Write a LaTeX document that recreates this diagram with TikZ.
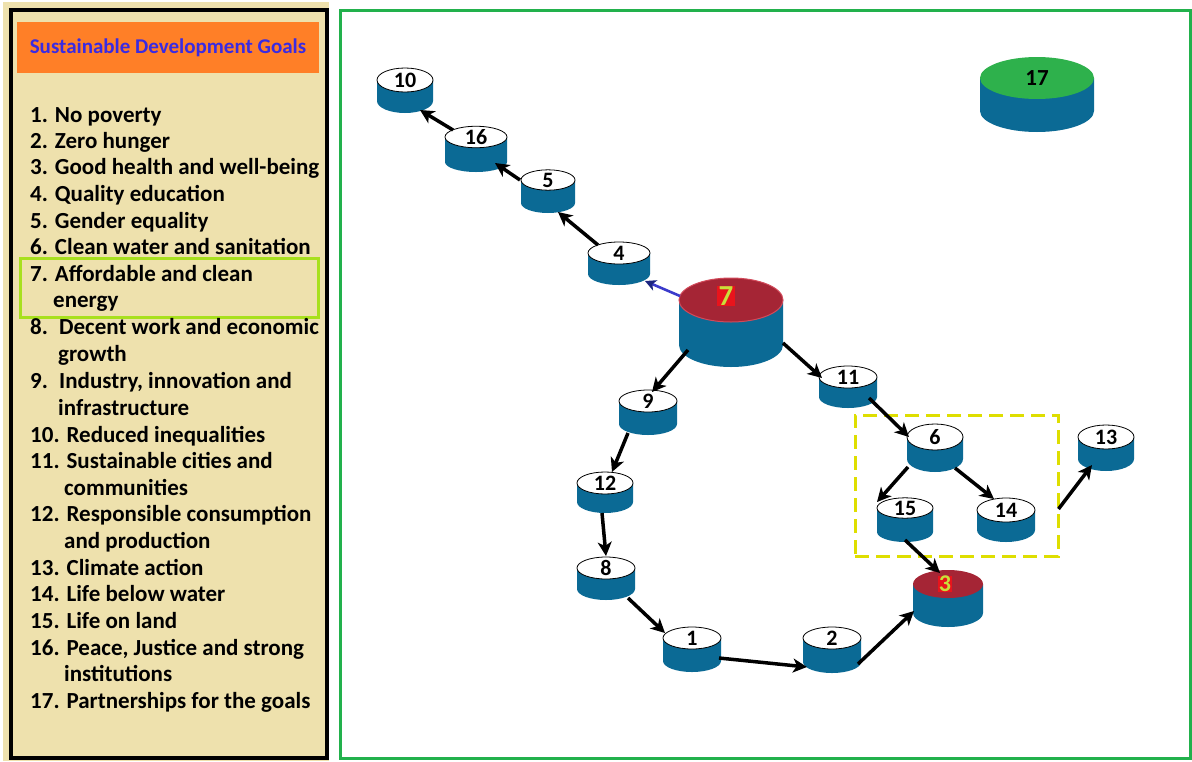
\documentclass[tikz,border=0pt]{standalone}
\usepackage{fontspec}
\setmainfont{Carlito}
\usetikzlibrary{shapes.geometric,arrows.meta,calc}
\definecolor{beige}{HTML}{EEE1AD}
\definecolor{orangebar}{HTML}{FF7F27}
\definecolor{titleblue}{HTML}{3A2BE2}
\definecolor{panelgreen}{HTML}{22B14C}
\definecolor{limegreen}{HTML}{A8E01E}
\definecolor{cylblue}{HTML}{0B6A95}
\definecolor{dashyellow}{HTML}{DEDE00}
\definecolor{topred}{HTML}{A52535}
\definecolor{rimred}{HTML}{D24A5A}
\definecolor{labelred}{HTML}{E8141C}
\definecolor{labelyellow}{HTML}{C8E03A}
\definecolor{topgreen}{HTML}{2EB14C}
\definecolor{arrowblue}{HTML}{3B3BCB}
\definecolor{navyhead}{HTML}{1C2580}
\newcommand\cylbody[5]{%
  \fill[cylblue] ({#1-#3},#2) -- ({#1-#3},{#2+#5}) arc[start angle=180,end angle=0,x radius=#3,y radius=#4] -- ({#1+#3},#2) -- cycle;}
\newcommand\cyl[8]{%
  \cylbody{#2}{#3}{#4}{#5}{#6}
  \node[ellipse,inner sep=0pt,minimum width={2*#4pt},minimum height={2*#5pt},#7] (#1) at (#2,#3) {#8};}
\newcommand\li[4]{\node[item] (#1) at (#2,{#3+8}) {#4};}
\begin{document}
\begin{tikzpicture}[x=1pt,y=-1pt,
  item/.style={anchor=base west,inner sep=0pt,font=\bfseries\fontsize{23}{24}\selectfont},
  cyltop/.style={fill=white,draw=black,line width=0.8pt,font=\bfseries\fontsize{22}{22}\selectfont},
  arr/.style={line width=3.5pt,black,-{Stealth[length=14pt,width=14pt,inset=4pt]}},
  bluearr/.style={line width=2.6pt,arrowblue,-{Stealth[length=11pt,width=11pt,inset=3pt,color=navyhead]}}]
\useasboundingbox (0,0) rectangle (1192,761);
% left panel
\fill[beige] (3,2) rectangle (329,761);
\node[draw=black,line width=3.5pt,minimum width=316pt,minimum height=748pt,inner sep=0pt] (panel) at (169,384) {};
\node[fill=orangebar,minimum width=302pt,minimum height=51pt,inner sep=0pt,text=titleblue,font=\bfseries\fontsize{21}{22}\selectfont] (title) at (168,47.5) {Sustainable Development Goals};
\node[draw=limegreen,line width=3pt,minimum width=298pt,minimum height=59pt,inner sep=0pt] (hl) at (169,287.5) {};
\li{i1}{30}{114}{1. No poverty}
\li{i2}{30}{140}{2. Zero hunger}
\li{i3}{30}{166}{3. Good health and well-being}
\li{i4}{30}{193}{4. Quality education}
\li{i5}{30}{220}{5. Gender equality}
\li{i6}{30}{246}{6. Clean water and sanitation}
\li{i7}{30}{273}{7. Affordable and clean}
\li{i7b}{53}{299}{energy}
\li{i8}{30}{326}{\makebox[29pt][l]{8.}Decent work and economic}
\li{i8b}{58}{353}{growth}
\li{i9}{30}{380}{\makebox[29pt][l]{9.}Industry, innovation and}
\li{i9b}{58}{407}{infrastructure}
\li{i10}{30}{434}{10. Reduced inequalities}
\li{i11}{30}{460}{11. Sustainable cities and}
\li{i11b}{64}{487}{communities}
\li{i12}{30}{513}{12. Responsible consumption}
\li{i12b}{64}{540}{and production}
\li{i13}{30}{567}{13. Climate action}
\li{i14}{30}{593}{14. Life below water}
\li{i15}{30}{620}{15. Life on land}
\li{i16}{30}{647}{16. Peace, Justice and strong}
\li{i16b}{64}{673}{institutions}
\li{i17}{30}{700}{17. Partnerships for the goals}
% right panel
\node[draw=panelgreen,line width=3pt,minimum width=850pt,minimum height=748pt,inner sep=0pt] (graph) at (765,384) {};
\node[draw=dashyellow,line width=3pt,dash pattern=on 14pt off 7pt,minimum width=203pt,minimum height=141pt,inner sep=0pt] (grp) at (956.5,485.5) {};
% cylinders
\cyl{n10}{405}{80}{28}{12}{21}{cyltop}{10}
\cyl{n16}{476}{137}{31}{10}{25}{cyltop}{16}
\cyl{n5}{548}{180}{27}{10}{23}{cyltop}{5}
\cyl{n4}{619}{253}{31}{11}{21}{cyltop}{4}
\cyl{n9}{648}{401}{29}{11}{23}{cyltop}{9}
\cyl{n12}{605}{483}{28}{11}{19}{cyltop}{12}
\cyl{n8}{606}{568}{29}{11}{21}{cyltop}{8}
\cyl{n1}{692}{638}{29}{11}{23}{cyltop}{1}
\cyl{n2}{832}{638}{29}{11}{24}{cyltop}{2}
\cyl{n11}{848}{377}{29}{11}{20}{cyltop}{11}
\cyl{n6}{935}{437}{28}{13}{22}{cyltop}{6}
\cyl{n15}{905}{508}{28}{10}{24}{cyltop}{15}
\cyl{n14}{1006}{510}{29}{12}{20}{cyltop}{14}
\cyl{n13}{1106}{437}{28}{12}{22}{cyltop}{13}
\cyl{n7}{731}{300}{52}{22}{45}{fill=topred,draw=rimred,line width=1pt}{}
\cyl{n3}{948}{584}{35}{14}{29}{fill=topred}{}
\cyl{n17}{1037}{78}{57}{21}{33}{fill=topgreen,font=\bfseries\fontsize{23}{23}\selectfont}{17}
\node[fill=labelred,text=labelyellow,inner xsep=1.5pt,inner ysep=0.5pt,font=\bfseries\fontsize{29}{29}\selectfont] (l7) at (726,296) {7};
\node[fill=labelred,text=labelyellow,inner xsep=0.5pt,inner ysep=0.5pt,font=\bfseries\fontsize{24}{24}\selectfont] (l3) at (945,584) {3};
% connectors
\draw[arr] ($(n16)+(-23,-7)$) -- ($(n10)+(15,30)$);
\draw[arr] ($(n5)+(-28,0)$) -- ($(n16)+(19,26)$);
\draw[arr] ($(n4)+(-21,-8)$) -- ($(n5)+(10,32)$);
\draw[bluearr] ($(n7)+(-51,-4)$) -- ($(n4)+(26,28)$);
\draw[arr] ($(n7)+(-43,50)$) -- ($(n9)+(4,-9)$);
\draw[arr] ($(n7)+(52,43)$) -- ($(n11)+(-26,1)$);
\draw[arr] ($(n11)+(21,21)$) -- ($(n6)+(-26,0)$);
\draw[arr] ($(n9)+(-20,32)$) -- ($(n12)+(7,-11)$);
\draw[arr] ($(n12)+(-3,30)$) -- ($(n8)+(0,-12)$);
\draw[arr] ($(n8)+(22,30)$) -- ($(n1)+(-27,-5)$);
\draw[arr] ($(n1)+(27,20)$) -- ($(n2)+(-25,29)$);
\draw[arr] ($(n2)+(26,26)$) -- ($(n3)+(-34,27)$);
\draw[arr] ($(n6)+(-27,30)$) -- ($(n15)+(-28,-6)$);
\draw[arr] ($(n6)+(20,31)$) -- ($(n14)+(-12,-11)$);
\draw[arr] ($(n15)+(0,32)$) -- ($(n3)+(-8,-11)$);
\draw[arr] ($(grp.east)+(-1,23.5)$) -- ($(n13)+(-14,28)$);
\end{tikzpicture}
\end{document}
